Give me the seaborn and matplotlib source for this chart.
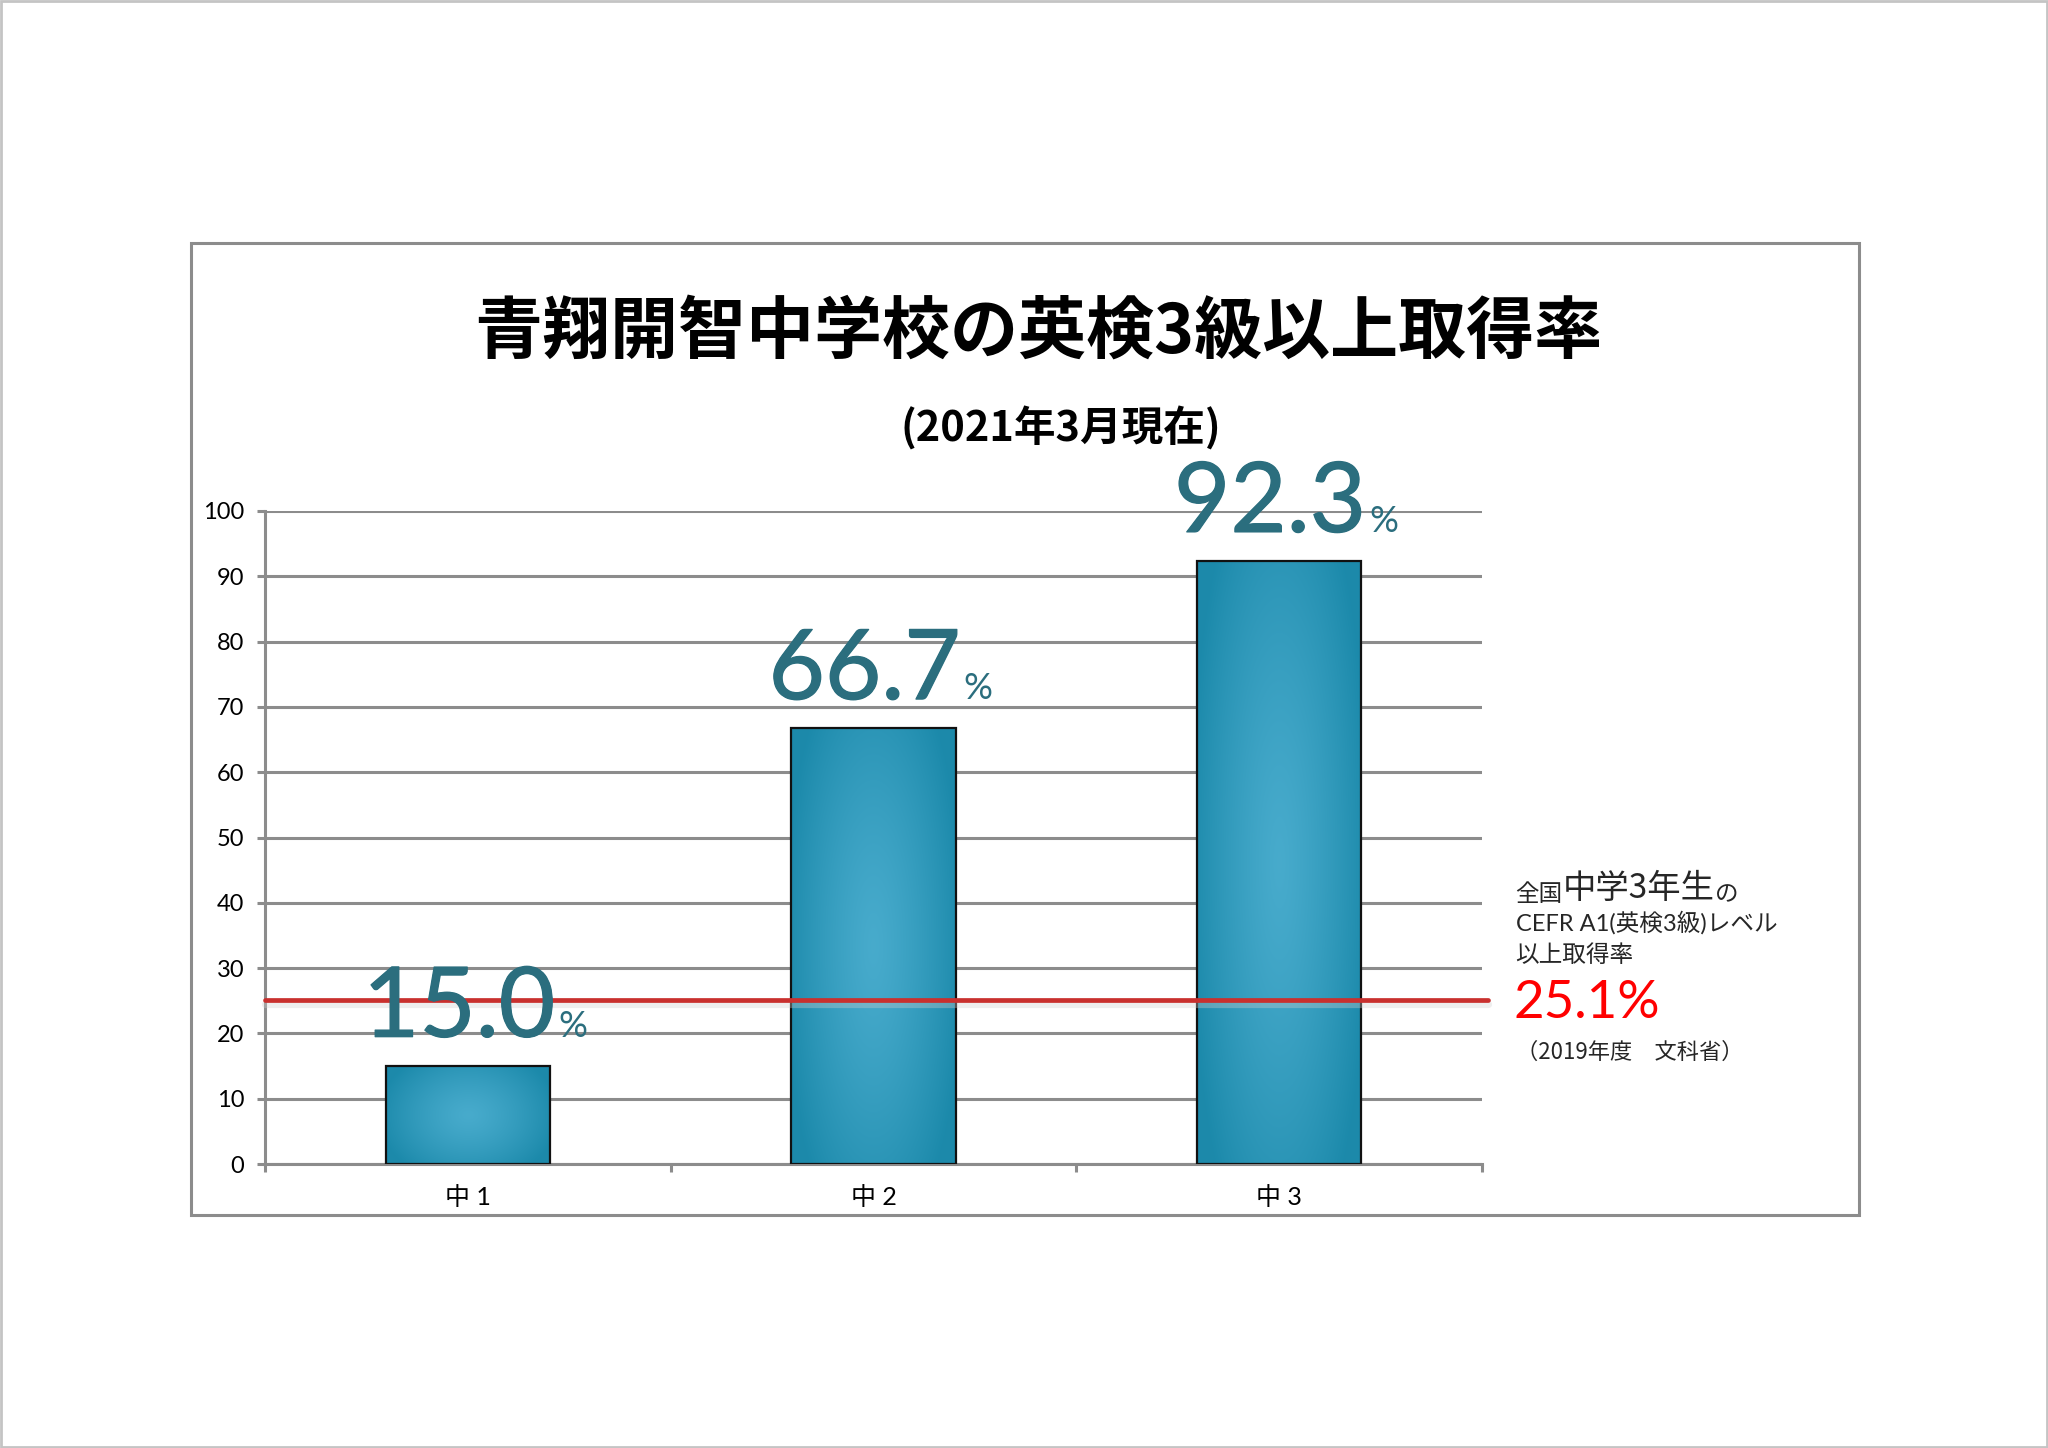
import numpy as np
import pandas as pd
import seaborn as sns
import matplotlib.pyplot as plt
import matplotlib.patheffects as pe
from matplotlib.patches import Rectangle
from matplotlib.ticker import FixedLocator

# chart data
grades = ['中 1', '中 2', '中 3']
rates = [15.0, 66.7, 92.3]
rate_labels = ['15.0', '66.7', '92.3']
national_rate = 25.1
y_ticks = list(range(0, 101, 10))

title = '青翔開智中学校の英検3級以上取得率'
subtitle = '(2021年3月現在)'
note_small_1 = '全国'
note_big = '中学3年生'
note_small_2 = 'の'
note_line2 = 'CEFR A1(英検3級)レベル'
note_line3 = '以上取得率'
note_value = '25.1%'
note_source = '（2019年度　文科省）'

sns.set_theme(style='white')
JP = ['Noto Sans CJK JP', 'DejaVu Sans']
LATIN = ['Lato', 'Noto Sans CJK JP', 'DejaVu Sans']
plt.rcParams['font.family'] = JP

GRID = '#8c8c8c'
LABEL_COL = '#2b6e7e'

fig = plt.figure(figsize=(10.24, 7.24), dpi=200)
fig.patch.set_facecolor('white')

# page border and chart frame
fig.patches.append(Rectangle((0.0005, 0.0007), 0.999, 0.9986, transform=fig.transFigure,
                             fill=False, edgecolor='#c4c4c4', lw=1.0))
fig.patches.append(Rectangle((0.0933, 0.1609), 0.8144, 0.6713, transform=fig.transFigure,
                             fill=False, edgecolor=GRID, lw=1.1))

ax = fig.add_axes([0.1294, 0.1961, 0.5942, 0.451])
df = pd.DataFrame({'grade': grades, 'rate': rates})
sns.barplot(data=df, x='grade', y='rate', color='#2596b8', width=0.405,
            edgecolor='#111111', linewidth=0.8, saturation=1, ax=ax, zorder=3)

# radial gradient fill inside each bar
light = np.array([0.28, 0.67, 0.80])
dark = np.array([0.11, 0.54, 0.67])
for patch in ax.patches:
    x0, w = patch.get_x(), patch.get_width()
    y0, h = patch.get_y(), patch.get_height()
    yy, xx = np.mgrid[0:1:200j, 0:1:100j]
    u = (xx - 0.5) / 0.5
    v = (yy - 0.5) / 0.5
    r = np.clip(np.sqrt(u ** 2 + 0.6 * v ** 2) / 1.1, 0, 1) ** 1.3
    img = light[None, None, :] * (1 - r[..., None]) + dark[None, None, :] * r[..., None]
    im = ax.imshow(img, extent=[x0, x0 + w, y0, y0 + h], origin='lower',
                   aspect='auto', zorder=3, interpolation='bilinear')
    im.set_clip_path(patch)
    patch.set_facecolor('none')
    patch.set_zorder(4)

ax.set_xlim(-0.5, 2.5)
ax.set_ylim(0, 100)

# national average line with soft shadow
ax.axhline(national_rate - 0.6, xmin=0, xmax=1.005, color='#cfcfcf', lw=2.6,
           alpha=0.35, zorder=5, clip_on=False)
ax.axhline(national_rate, xmin=0, xmax=1.005, color='#c9302e', lw=1.7,
           zorder=6, clip_on=False)

# value labels (stroke thickens the regular weight a little)
thick = [pe.withStroke(linewidth=0.45, foreground=LABEL_COL)]
for i, (v, lab) in enumerate(zip(rates, rate_labels)):
    ax.text(i + 0.215, v + 4.5, lab, ha='right', va='baseline', fontsize=35,
            color=LABEL_COL, family=['Lato'], zorder=7, path_effects=thick)
    ax.text(i + 0.222, v + 4.5, '%', ha='left', va='baseline', fontsize=13,
            color=LABEL_COL, family=['Lato'], zorder=7)

# axes styling
ax.set_yticks(y_ticks)
ax.yaxis.grid(True, color=GRID, lw=1.1)
ax.set_axisbelow(True)
for side in ['top', 'right']:
    ax.spines[side].set_visible(False)
for side in ['left', 'bottom']:
    ax.spines[side].set_color(GRID)
    ax.spines[side].set_linewidth(1.1)
ax.set_xlabel('')
ax.set_ylabel('')
ax.tick_params(axis='y', which='major', length=3, width=1.1, color=GRID,
               direction='out', left=True, pad=4.5, labelsize=8.5, labelcolor='black')
ax.tick_params(axis='x', which='major', length=0, pad=8, labelsize=9, labelcolor='black')
ax.xaxis.set_minor_locator(FixedLocator([-0.5, 0.5, 1.5, 2.5]))
ax.tick_params(axis='x', which='minor', length=3, width=1.1, color=GRID,
               direction='out', bottom=True)
for t in ax.get_yticklabels():
    t.set_family(['Lato'])
for t in ax.get_xticklabels():
    t.set_family(LATIN)

# titles
fig.text(0.507, 0.770, title, ha='center', va='center', fontsize=24.5,
         fontweight='bold', color='black', family=JP)
fig.text(0.518, 0.704, subtitle, ha='center', va='center', fontsize=15,
         fontweight='bold', color='black', family=JP)

# right side note
t1 = fig.text(0.740, 0.374, note_small_1, ha='left', va='bottom', fontsize=8.5, family=JP)
t2 = ax.annotate(note_big, xy=(1, 0), xycoords=t1, ha='left', va='bottom',
                 fontsize=12, family=JP, annotation_clip=False)
ax.annotate(note_small_2, xy=(1, 0), xycoords=t2, ha='left', va='bottom',
            fontsize=8.5, family=JP, annotation_clip=False)
fig.text(0.740, 0.363, note_line2, ha='left', va='center', fontsize=8.5, family=LATIN)
fig.text(0.740, 0.340, note_line3, ha='left', va='center', fontsize=8.5, family=JP)
fig.text(0.739, 0.307, note_value, ha='left', va='center', fontsize=19,
         color='#ff0000', family=['Lato'])
fig.text(0.740, 0.273, note_source, ha='left', va='center', fontsize=8, family=JP)

fig.savefig('out.png', dpi=200, facecolor='white')
